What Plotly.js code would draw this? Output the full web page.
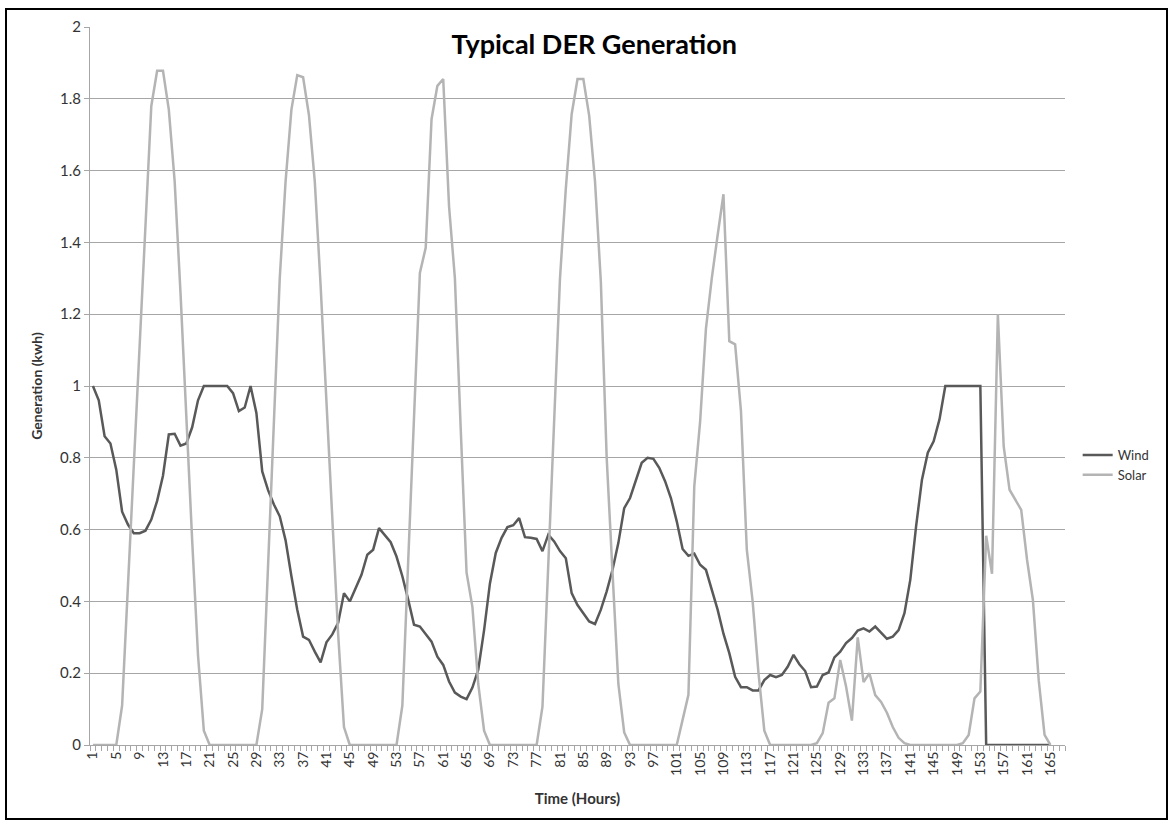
<!DOCTYPE html>
<html>
<head>
<meta charset="utf-8">
<script src="https://cdn.plot.ly/plotly-3.0.1.min.js"></script>
<style>
  html, body { margin: 0; padding: 0; background: #fff; }
  #wrap { position: relative; width: 1172px; height: 826px; }
  #chart { position: absolute; left: 0; top: 0; width: 1172px; height: 826px; }
  #frame { position: absolute; left: 5px; top: 8px; width: 1159px; height: 808px; border: 2px solid #000; pointer-events: none; }
</style>
</head>
<body>
<div id="wrap"><div id="chart"></div><div id="frame"></div></div>
<script>
// Hours 1..165
const hours = Array.from({length: 165}, (_, i) => i + 1);

const wind = [
  1.0, 0.96, 0.86, 0.84, 0.767, 0.65, 0.614, 0.59, 0.59, 0.597,
  0.628, 0.68, 0.75, 0.865, 0.867, 0.834, 0.84, 0.885, 0.96, 1.0,
  1.0, 1.0, 1.0, 1.0, 0.98, 0.93, 0.94, 1.0, 0.925, 0.762,
  0.71, 0.67, 0.637, 0.57, 0.47, 0.377, 0.302, 0.293, 0.26, 0.23,
  0.286, 0.308, 0.34, 0.423, 0.40, 0.437, 0.474, 0.53, 0.544, 0.604,
  0.586, 0.565, 0.525, 0.47, 0.405, 0.335, 0.33, 0.31, 0.288, 0.246,
  0.223, 0.177, 0.146, 0.135, 0.128, 0.16, 0.21, 0.32, 0.45, 0.535,
  0.577, 0.607, 0.612, 0.632, 0.579, 0.577, 0.574, 0.54, 0.586, 0.567,
  0.54, 0.52, 0.423, 0.39, 0.367, 0.344, 0.337, 0.377, 0.428, 0.488,
  0.563, 0.66, 0.688, 0.739, 0.786, 0.80, 0.797, 0.772, 0.735, 0.688,
  0.623, 0.546, 0.527, 0.533, 0.502, 0.488, 0.432, 0.377, 0.31, 0.256,
  0.19, 0.161, 0.161, 0.152, 0.152, 0.181, 0.195, 0.189, 0.195, 0.218,
  0.251, 0.225, 0.206, 0.161, 0.163, 0.195, 0.202, 0.244, 0.26, 0.284,
  0.298, 0.319, 0.325, 0.316, 0.33, 0.313, 0.296, 0.302, 0.32, 0.367,
  0.46, 0.61, 0.739, 0.814, 0.846, 0.907, 1.0, 1.0, 1.0, 1.0,
  1.0, 1.0, 1.0, 0, 0, 0, 0, 0, 0, 0,
  0, 0, 0, 0, 0
];

const solar = [
  0, 0, 0, 0, 0, 0.11, 0.45, 0.79, 1.13, 1.47,
  1.78, 1.878, 1.878, 1.77, 1.57, 1.26, 0.9, 0.57, 0.25, 0.04,
  0, 0, 0, 0, 0, 0, 0, 0, 0, 0.10,
  0.49, 0.88, 1.3, 1.57, 1.77, 1.866, 1.86, 1.755, 1.57, 1.28,
  0.95, 0.63, 0.31, 0.05, 0, 0, 0, 0, 0, 0,
  0, 0, 0, 0.11, 0.51, 0.91, 1.315, 1.385, 1.743, 1.836,
  1.855, 1.5, 1.3, 0.88, 0.48, 0.385, 0.17, 0.04, 0, 0,
  0, 0, 0, 0, 0, 0, 0, 0.107, 0.5, 0.9,
  1.3, 1.55, 1.757, 1.855, 1.855, 1.753, 1.57, 1.29, 0.8, 0.48,
  0.17, 0.035, 0, 0, 0, 0, 0, 0, 0, 0,
  0, 0.07, 0.14, 0.72, 0.9, 1.16, 1.3, 1.42, 1.534, 1.125,
  1.116, 0.93, 0.544, 0.4, 0.2, 0.04, 0, 0, 0, 0,
  0, 0, 0, 0, 0.005, 0.033, 0.118, 0.13, 0.237, 0.163,
  0.068, 0.3, 0.175, 0.2, 0.139, 0.12, 0.09, 0.05, 0.02, 0.005,
  0, 0, 0, 0, 0, 0, 0, 0, 0, 0.005,
  0.028, 0.13, 0.149, 0.583, 0.477, 1.2, 0.832, 0.711, 0.683, 0.655,
  0.516, 0.404, 0.18, 0.028, 0
];

const xTickVals = Array.from({length: 42}, (_, i) => 1 + 4 * i);
const xTickText = xTickVals.map(String);
const yTickVals = [0, 0.2, 0.4, 0.6, 0.8, 1, 1.2, 1.4, 1.6, 1.8, 2];
const yTickText = ['0', '0.2', '0.4', '0.6', '0.8', '1', '1.2', '1.4', '1.6', '1.8', '2'];

const FONT = 'Lato, "Open Sans", sans-serif';

const traces = [
  { x: hours, y: wind, name: 'Wind', type: 'scatter', mode: 'lines',
    line: { color: '#595959', width: 2.5 } },
  { x: hours, y: solar, name: 'Solar', type: 'scatter', mode: 'lines',
    line: { color: '#b4b4b4', width: 2.5 } }
];

const layout = {
  width: 1172, height: 826,
  margin: { l: 90, r: 107, t: 27, b: 81 },
  paper_bgcolor: '#fff', plot_bgcolor: '#fff',
  font: { family: FONT, color: '#333', size: 13 },
  title: { text: '<b>Typical DER Generation</b>', font: { family: FONT, size: 27, color: '#000' },
           x: 0.507, xanchor: 'center', y: 0.946, yanchor: 'middle' },
  showlegend: true,
  legend: { x: 1.013, y: 0.39, xanchor: 'left', yanchor: 'middle', font: { family: FONT, size: 13, color: '#333' },
            tracegroupgap: 2, itemwidth: 30, bgcolor: 'rgba(0,0,0,0)' },
  xaxis: {
    range: [0.5, 167.5], tickmode: 'array', tickvals: xTickVals, ticktext: xTickText,
    tickangle: -90, ticks: '', showgrid: false, zeroline: false,
    showline: true, linecolor: '#a6a6a6', linewidth: 1,
    tickfont: { family: FONT, size: 14, color: '#333' },
    minor: { tickmode: 'linear', tick0: 0.5, dtick: 1, ticks: 'outside', ticklen: 5, tickcolor: '#a6a6a6', showgrid: false },
    title: { text: '<b>Time (Hours)</b>', font: { family: FONT, size: 15, color: '#333' }, standoff: 18 }
  },
  yaxis: {
    range: [0, 2], tickmode: 'array', tickvals: yTickVals, ticktext: yTickText,
    ticks: 'outside', ticklen: 5, tickcolor: '#a6a6a6',
    showgrid: true, gridcolor: '#a6a6a6', gridwidth: 1, zeroline: false,
    showline: true, linecolor: '#a6a6a6', linewidth: 1,
    tickfont: { family: FONT, size: 15, color: '#333' },
    title: { text: '<b>Generation (kwh)</b>', font: { family: FONT, size: 14, color: '#333' }, standoff: 14 }
  }
};

Plotly.newPlot('chart', traces, layout, { displayModeBar: false, staticPlot: true });
</script>
</body>
</html>
